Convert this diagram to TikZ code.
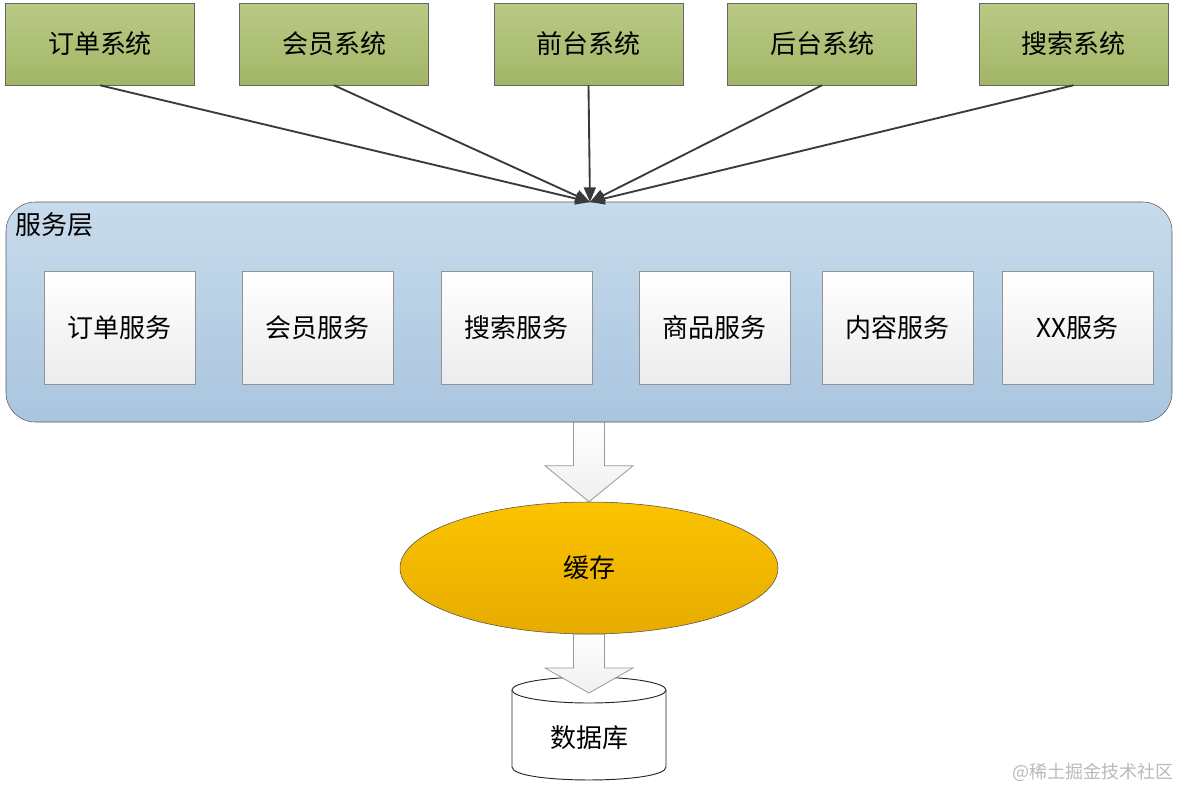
\documentclass[tikz,border=0pt]{standalone}
\usepackage{fontspec}
\setmainfont{Noto Sans CJK SC}
\usetikzlibrary{arrows.meta,shapes.geometric,calc}
\definecolor{gtop}{HTML}{BACA86}
\definecolor{gbot}{HTML}{A2B666}
\definecolor{btop}{HTML}{C8DBEB}
\definecolor{bbot}{HTML}{A9C5DF}
\definecolor{otop}{HTML}{FCC300}
\definecolor{obot}{HTML}{E6AC00}
\definecolor{lnc}{HTML}{3A3A3A}
\begin{document}
\begin{tikzpicture}[x=0.75pt,y=-0.75pt,
  txt/.style={font=\fontsize{19.5}{22}\selectfont},
  sysbox/.style={txt,draw=gray!80!black,top color=gtop,bottom color=gbot,minimum width=141.75pt,minimum height=61.5pt,inner sep=0pt},
  svcbox/.style={txt,draw=gray!85,top color=white,bottom color=gray!15,minimum width=113.25pt,minimum height=84.75pt,inner sep=0pt},
  layerbox/.style={draw=gray!70!black,top color=btop,bottom color=bbot,rounded corners=22pt,minimum width=874.5pt,minimum height=165pt,inner sep=0pt},
  conn/.style={draw=lnc,line width=1.4pt,-{Triangle[length=11pt,width=9pt]}},
  blockarrow/.style={draw=gray!80,top color=white,bottom color=gray!12,line width=0.6pt},
  cachestyle/.style={txt,ellipse,draw=gray!60!black,top color=otop,bottom color=obot,minimum width=283.5pt,minimum height=99pt,inner sep=0pt}]
\useasboundingbox (0,0) rectangle (1179,789);

% top systems
\node[sysbox] (s1) at (100,44) {订单系统};
\node[sysbox] (s2) at (334,44) {会员系统};
\node[sysbox] (s3) at (588.5,44) {前台系统};
\node[sysbox] (s4) at (822,44) {后台系统};
\node[sysbox] (s5) at (1073.5,44) {搜索系统};

% service layer
\node[layerbox] (layer) at (589,312) {};
\node[txt,anchor=north west,inner sep=0pt] (layerlabel) at (15,212) {服务层};
\coordinate (hub) at (590,202);

\node[svcbox] (v1) at (119.5,327.5) {订单服务};
\node[svcbox] (v2) at (317.5,327.5) {会员服务};
\node[svcbox] (v3) at (516.5,327.5) {搜索服务};
\node[svcbox] (v4) at (714.5,327.5) {商品服务};
\node[svcbox] (v5) at (897.5,327.5) {内容服务};
\node[svcbox] (v6) at (1077.5,327.5) {XX服务};

\foreach \s in {s1,s2,s3,s4,s5}{\draw[conn] (\s.south) -- (hub);}

% cache
\node[cachestyle] (cache) at (589,568) {缓存};

\draw[blockarrow] ($(layer.south)+(-15.5,0)$) -- ($(cache.north)+(-15.5,-36)$) -- ($(cache.north)+(-44,-36)$) -- (cache.north) -- ($(cache.north)+(44,-36)$) -- ($(cache.north)+(15.5,-36)$) -- ($(layer.south)+(15.5,0)$) -- cycle;

% database cylinder
\fill[white] (512,690) -- (512,767) .. controls (512,784.3) and (666,784.3) .. (666,767) -- (666,690) -- cycle;
\draw[gray!30!black,line width=0.7pt] (512,690) -- (512,767) .. controls (512,784.3) and (666,784.3) .. (666,767) -- (666,690);
\draw[gray!30!black,fill=white,line width=0.7pt] (589,690) ellipse [x radius=77,y radius=13];
\node[txt] (db) at (589,738) {数据库};
\coordinate (dbtip) at (589,693);

\draw[blockarrow] ($(cache.south)+(-15.5,0)$) -- ($(dbtip)+(-15.5,-25)$) -- ($(dbtip)+(-44,-25)$) -- (dbtip) -- ($(dbtip)+(44,-25)$) -- ($(dbtip)+(15.5,-25)$) -- ($(cache.south)+(15.5,0)$) -- cycle;

% watermark
\node[font=\fontsize{13.5}{15}\selectfont,text=gray!55,inner sep=0pt] (wm) at (1093,772) {@稀土掘金技术社区};
\end{tikzpicture}
\end{document}
